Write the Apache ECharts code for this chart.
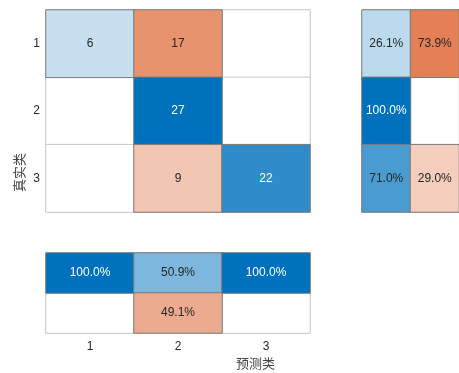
<!DOCTYPE html>
<html>
<head>
<meta charset="utf-8">
<script src="https://cdn.jsdelivr.net/npm/echarts@6/dist/echarts.min.js"></script>
<style>
  html, body { margin: 0; padding: 0; background: #fff; }
  #chart { width: 459px; height: 373px; }
</style>
</head>
<body>
<div id="chart"></div>
<script>
// class labels
var classes = ['1', '2', '3'];
// confusion counts, rows = true class, cols = predicted class
var counts = [
  [6, 17, 0],
  [0, 27, 0],
  [0, 9, 22]
];
// row summary (per true class): correct %, incorrect %
var rowCorrect = [26.1, 100.0, 71.0];
var rowWrong = [73.9, 0, 29.0];
// column summary (per predicted class): correct %, incorrect %
var colCorrect = [100.0, 50.9, 100.0];
var colWrong = [0, 49.1, 0];

var BLUE = [0, 114, 189];
var ORANGE = [217, 83, 25];
var FONT = 'Liberation Sans, Arial, sans-serif';

function mix(base, a) {
  var c = base.map(function (v) { return Math.round(255 - a * (255 - v)); });
  return 'rgb(' + c.join(',') + ')';
}

// build a heatmap item from a value, its share (0..1) and whether it is "correct"
function cell(x, y, v, share, good, text) {
  if (!v) {
    return { value: [x, y, 0], itemStyle: { color: '#fff', borderColor: '#c8c8c8' }, label: { show: false } };
  }
  return {
    value: [x, y, v],
    itemStyle: { color: mix(good ? BLUE : ORANGE, share), borderColor: '#7a7a7a' },
    label: { show: true, formatter: text, color: share > 0.75 ? '#fff' : '#262626' }
  };
}

var maxCount = 27;
var mainEmpty = [], mainFull = [];
counts.forEach(function (row, i) {
  row.forEach(function (v, j) {
    var it = cell(j, i, v, v / maxCount, i === j, String(v));
    (v ? mainFull : mainEmpty).push(it);
  });
});

var rowEmpty = [], rowFull = [];
rowCorrect.forEach(function (p, i) {
  var a = cell(0, i, p, p / 100, true, p.toFixed(1) + '%');
  var b = cell(1, i, rowWrong[i], rowWrong[i] / 100, false, rowWrong[i].toFixed(1) + '%');
  (p ? rowFull : rowEmpty).push(a);
  (rowWrong[i] ? rowFull : rowEmpty).push(b);
});

var colEmpty = [], colFull = [];
colCorrect.forEach(function (p, j) {
  var a = cell(j, 0, p, p / 100, true, p.toFixed(1) + '%');
  var b = cell(j, 1, colWrong[j], colWrong[j] / 100, false, colWrong[j].toFixed(1) + '%');
  (p ? colFull : colEmpty).push(a);
  (colWrong[j] ? colFull : colEmpty).push(b);
});

function hm(idx, data) {
  return {
    type: 'heatmap', xAxisIndex: idx, yAxisIndex: idx, data: data,
    itemStyle: { borderWidth: 1 },
    label: { fontFamily: FONT, fontSize: 12 },
    emphasis: { disabled: true }
  };
}

function catAxis(idx, data, showLabel, inverse, extra) {
  var ax = {
    type: 'category', gridIndex: idx, data: data, inverse: !!inverse,
    axisLine: { show: false }, axisTick: { show: false },
    splitLine: { show: false }, splitArea: { show: false },
    axisLabel: { show: showLabel, color: '#262626', fontFamily: FONT, fontSize: 12 }
  };
  for (var k in extra) ax[k] = extra[k];
  return ax;
}

var chart = echarts.init(document.getElementById('chart'));
chart.setOption({
  animation: false,
  backgroundColor: '#fff',
  grid: [
    { left: 46, top: 10, width: 264, height: 202, show: true, borderColor: '#c8c8c8', borderWidth: 1 },
    { left: 362, top: 10, width: 106, height: 202, show: true, borderColor: '#c8c8c8', borderWidth: 1 },
    { left: 46, top: 253, width: 264, height: 80, show: true, borderColor: '#c8c8c8', borderWidth: 1 }
  ],
  xAxis: [
    catAxis(0, classes, false, false),
    catAxis(1, ['c', 'w'], false, false),
    catAxis(2, classes, true, false, { position: 'bottom' })
  ],
  yAxis: [
    catAxis(0, classes, true, true, { axisLabel: { show: true, color: '#262626', fontFamily: FONT, fontSize: 12, margin: 6 } }),
    catAxis(1, classes, false, true),
    catAxis(2, ['c', 'w'], false, true)
  ],
  series: [
    hm(0, mainEmpty), hm(0, mainFull),
    hm(1, rowEmpty), hm(1, rowFull),
    hm(2, colEmpty), hm(2, colFull)
  ],
  graphic: [
    { type: 'text', left: 236, top: 357, style: { text: '预测类', fill: '#444', font: '13px "Noto Sans CJK SC", sans-serif' } },
    { type: 'text', x: 13, y: 192, rotation: Math.PI / 2, style: { text: '真实类', fill: '#444', font: '13px "Noto Sans CJK SC", sans-serif' } }
  ]
});
</script>
</body>
</html>
